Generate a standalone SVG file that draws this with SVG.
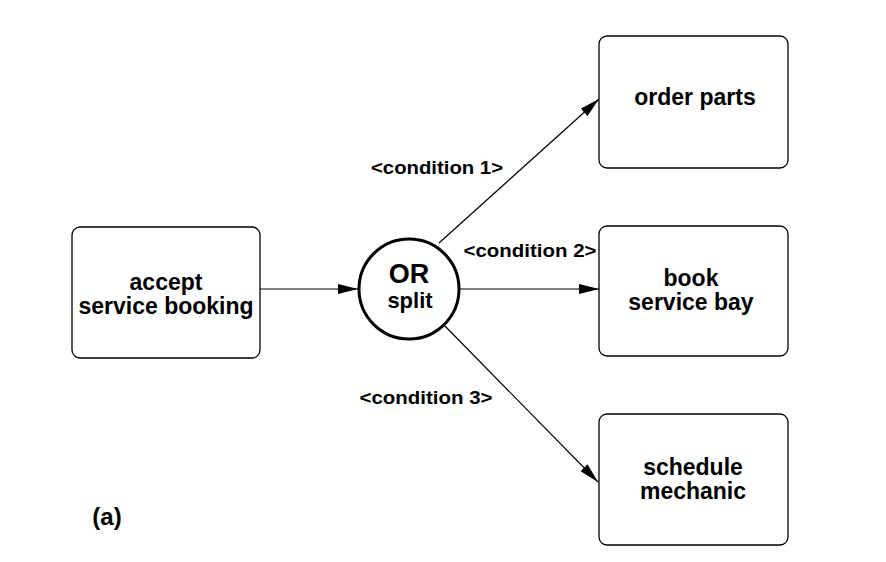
<svg xmlns="http://www.w3.org/2000/svg" width="886" height="562" viewBox="0 0 886 562">
<defs>
<style>
.box{fill:#fff;stroke:#000;stroke-width:1.3}
.t{font-family:"Liberation Sans",Arial,sans-serif;font-weight:bold;font-size:23px;text-anchor:middle;fill:#000}
.c{font-family:"Liberation Sans",Arial,sans-serif;font-weight:bold;font-size:18px;text-anchor:middle;fill:#000}
.e{stroke:#000;stroke-width:1.2;fill:none;marker-end:url(#ah)}
</style>
<marker id="ah" markerWidth="20" markerHeight="10" refX="20" refY="5" orient="auto" markerUnits="userSpaceOnUse">
<path d="M0,0 L20,5 L0,10 Z" fill="#000"/>
</marker>
</defs>
<rect width="886" height="562" fill="#fff"/>
<g id="edges">
<line class="e" x1="260" y1="289" x2="358" y2="289"/>
<line class="e" x1="439" y1="243" x2="599" y2="99"/>
<line class="e" x1="459" y1="289" x2="599" y2="289"/>
<line class="e" x1="443" y1="324" x2="598" y2="482"/>
</g>
<g id="accept">
<rect class="box" x="72" y="227" width="188" height="131" rx="8"/>
<text class="t" x="166" y="290">accept</text>
<text class="t" x="166" y="314">service booking</text>
</g>
<g id="orsplit">
<circle cx="409" cy="289" r="50" fill="#fff" stroke="#000" stroke-width="3"/>
<text class="t" x="409" y="283" style="font-size:27px">OR</text>
<text class="t" x="410" y="308" style="font-size:22px">split</text>
</g>
<g id="order">
<rect class="box" x="599" y="36" width="189" height="132" rx="8"/>
<text class="t" x="695" y="105">order parts</text>
</g>
<g id="book">
<rect class="box" x="599" y="226" width="189" height="130" rx="8"/>
<text class="t" x="691" y="286">book</text>
<text class="t" x="691" y="310">service bay</text>
</g>
<g id="schedule">
<rect class="box" x="599" y="414" width="189" height="131" rx="8"/>
<text class="t" x="693" y="475">schedule</text>
<text class="t" x="693" y="499">mechanic</text>
</g>
<g id="labels">
<text class="c" x="437" y="174" textLength="132" lengthAdjust="spacingAndGlyphs">&lt;condition 1&gt;</text>
<text class="c" x="530" y="257" textLength="133" lengthAdjust="spacingAndGlyphs">&lt;condition 2&gt;</text>
<text class="c" x="426" y="404" textLength="133" lengthAdjust="spacingAndGlyphs">&lt;condition 3&gt;</text>
<text class="t" x="107" y="525" style="font-size:24px">(a)</text>
</g>
</svg>
